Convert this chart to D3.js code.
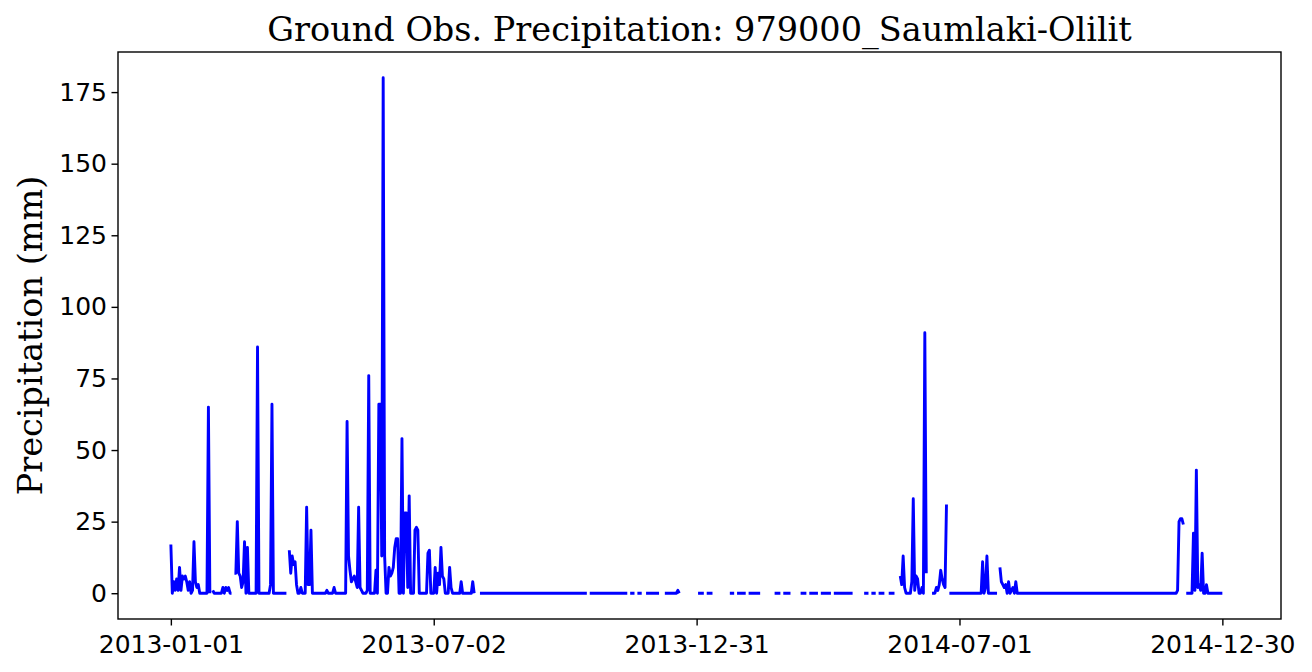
<!DOCTYPE html>
<html>
<head>
<meta charset="utf-8">
<script src="https://cdn.jsdelivr.net/npm/d3@7"></script>
<style>
  body { margin: 0; background: #fff; }
  .tick text { font-family: "DejaVu Sans", sans-serif; fill: #000; }
</style>
</head>
<body>
<svg id="chart" width="1312" height="672"></svg>
<script>
// daily gauge record; null = missing day (line breaks)
var startDate = "2013-01-01";
var obsDays = [
  0,1,2,3,4,5,6,7,8,9,10,11,12,13,14,15,16,17,18,19,20,25,26,27,28,
  29,30,35,36,37,38,39,40,41,42,43,
  44,45,46,47,48,49,50,51,52,53,54,59,60,61,68,69,70,71,80,81,
  82,83,84,85,86,87,88,89,90,91,93,94,95,96,97,98,107,108,109,112,113,114,121,
  122,123,124,125,126,127,128,129,130,131,132,133,135,136,137,138,141,142,143,144,145,146,147,148,149,150,
  151,152,153,154,155,156,157,158,159,160,161,162,163,164,165,166,168,169,170,171,172,177,
  178,179,180,182,183,184,185,186,187,188,189,190,192,193,194,195,200,201,202,208,209,210,211,
  214,288,289,290,316,317,318,321,322,323,326,327,329,338,339,342,350,351,352,353,
  365,369,370,371,375,376,387,390,391,392,398,399,400,408,409,
  418,422,423,424,429,430,436,440,441,442,448,449,450,457,458,459,472,473,
  480,483,484,485,488,489,490,494,495,497,501,502,
  505,506,507,508,509,512,513,514,515,516,517,518,519,520,521,522,523,524,
  527,529,530,531,532,533,534,535,536,537,538,
  539,561,562,563,564,565,566,572,573,
  574,575,576,577,578,579,580,581,582,583,584,585,586,696,697,698,699,700,701,702,
  703,707,708,709,710,711,712,713,714,715,716,717,718,728,732
];
var obsPrecip = [
  17,0,4,1,5,1,9,1,6,5,6,4,1,4,0,1,18,4,2,3,0,0,65,0,null,
  1,0,0,2,0,2,1,2,0,0,null,
  7,7,25,7,6,2,4,18,0,16,0,0,86,0,0,3,66,0,0,null,
  15,7,13,10,11,3,0,0,2,0,0,30,3,3,22,0,0,1,0,0,2,0,0,
  60,13,8,4,5,6,4,2,30,2,1,0,0,1,76,0,0,8,0,66,66,13,180,13,0,0,
  9,6,7,9,16,19,19,0,0,54,0,28,28,2,34,0,0,22,23,22,0,0,
  14,15,0,0,9,0,7,3,16,6,5,0,0,9,2,0,0,4,0,0,4,0,null,
  0,0,null,0,0,null,0,0,null,0,0,null,0,0,null,0,0,1,0,null,
  0,0,null,0,0,null,0,0,null,0,0,null,0,0,null,
  0,0,null,0,0,null,0,0,null,0,0,null,0,0,null,0,0,null,
  0,0,null,0,0,null,0,0,null,0,0,null,
  6,3,13,2,0,0,4,33,1,6,5,0,0,2,0,91,7,null,
  0,0,2,1,3,8,5,3,2,31,null,
  0,0,11,0,2,13,0,0,null,
  9,4,3,2,3,0,4,0,1,2,0,4,0,0,1,25,26,26,24,null,
  0,0,21,1,43,2,3,1,14,0,0,3,0,0,null
];
var xTickLabels = ["2013-01-01", "2013-07-02", "2013-12-31", "2014-07-01", "2014-12-30"];
var yTickValues = [0, 25, 50, 75, 100, 125, 150, 175];
var titleText = "Ground Obs. Precipitation: 979000_Saumlaki-Olilit";
var yLabelText = "Precipitation (mm)";

var W = 1312, H = 672;
var margin = {top: 52, right: 31, bottom: 53, left: 118};
var width = W - margin.left - margin.right;
var height = H - margin.top - margin.bottom;

var parse = d3.utcParse("%Y-%m-%d");
var t0 = parse(startDate);
var data = obsDays.map(function (d, i) {
  return {date: d3.utcDay.offset(t0, d), mm: obsPrecip[i]};
});

// matplotlib style 5% margins
var xExt = d3.extent(data, function (d) { return d.date; });
var xPad = (xExt[1] - xExt[0]) * 0.05;
var x = d3.scaleUtc()
  .domain([new Date(+xExt[0] - xPad), new Date(+xExt[1] + xPad)])
  .range([0, width]);
var yMax = d3.max(obsPrecip), yPad = yMax * 0.05;
var y = d3.scaleLinear()
  .domain([-yPad, yMax + yPad])
  .range([height, 0]);

var svg = d3.select("#chart");
var g = svg.append("g").attr("transform", "translate(" + margin.left + "," + margin.top + ")");

var line = d3.line()
  .defined(function (d) { return d.mm !== null; })
  .x(function (d) { return x(d.date); })
  .y(function (d) { return y(d.mm); });

g.append("path")
  .datum(data)
  .attr("fill", "none")
  .attr("stroke", "#0000ff")
  .attr("stroke-width", 2.9)
  .attr("stroke-linejoin", "round")
  .attr("d", line);

var xAxis = g.append("g")
  .attr("transform", "translate(0," + height + ")")
  .call(d3.axisBottom(x)
    .tickValues(xTickLabels.map(parse))
    .tickFormat(d3.utcFormat("%Y-%m-%d"))
    .tickSize(6.5)
    .tickPadding(10));
var yAxis = g.append("g")
  .call(d3.axisLeft(y)
    .tickValues(yTickValues)
    .tickSize(6.5)
    .tickPadding(4.5));

[xAxis, yAxis].forEach(function (a) {
  a.select(".domain").remove();
  a.selectAll(".tick line").attr("stroke", "#000").attr("stroke-width", 1.4);
  a.selectAll(".tick text").style("font-size", "25px");
});

g.append("rect")
  .attr("width", width)
  .attr("height", height)
  .attr("fill", "none")
  .attr("stroke", "#000")
  .attr("stroke-width", 1.4);

svg.append("text")
  .attr("x", margin.left + width / 2)
  .attr("y", 41)
  .attr("text-anchor", "middle")
  .style("font-family", "'DejaVu Serif', serif")
  .style("font-size", "33.5px")
  .text(titleText);

svg.append("text")
  .attr("transform", "translate(42," + (margin.top + height / 2) + ") rotate(-90)")
  .attr("text-anchor", "middle")
  .style("font-family", "'DejaVu Serif', serif")
  .style("font-size", "33.5px")
  .text(yLabelText);
</script>
</body>
</html>
